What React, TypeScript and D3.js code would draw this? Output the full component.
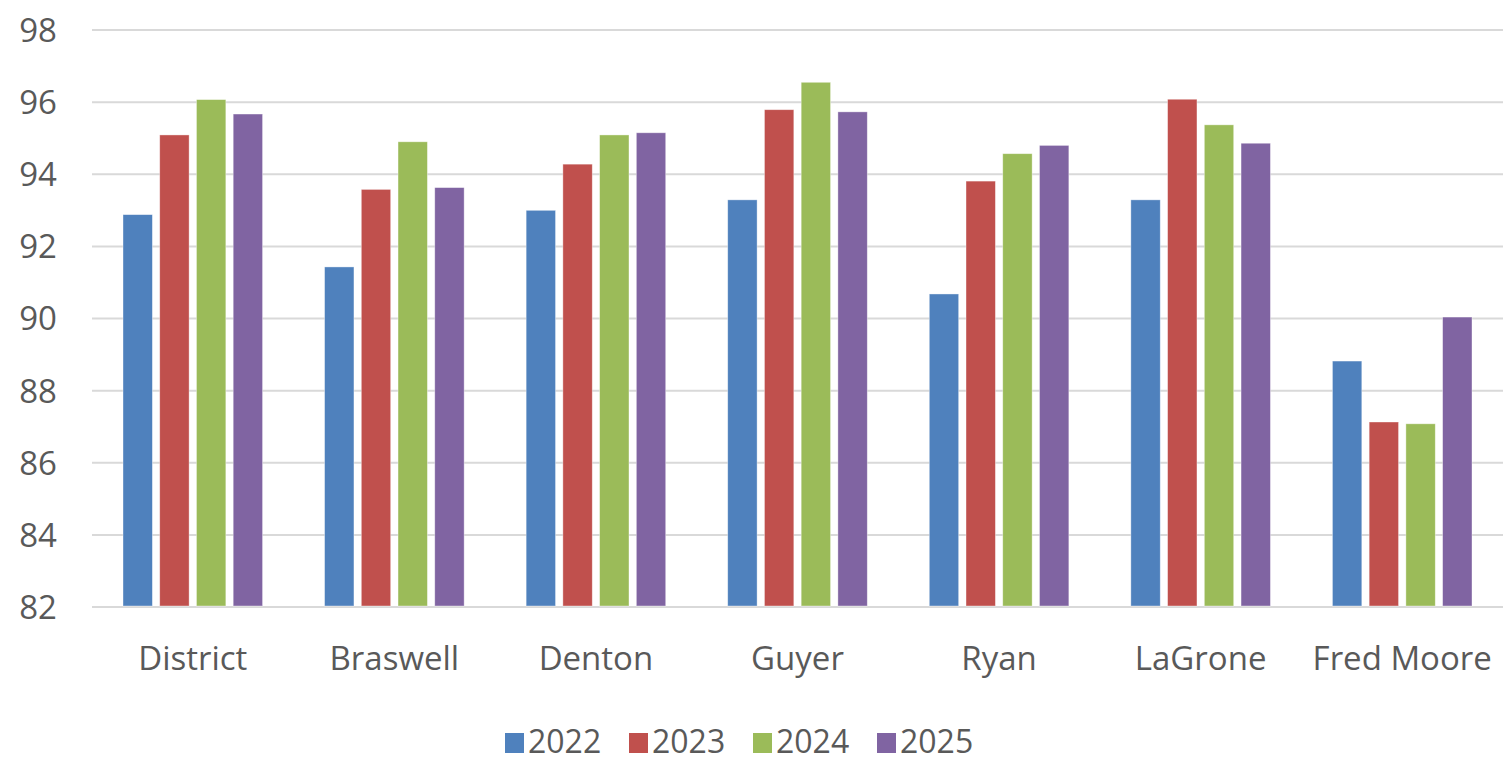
import React from "react";
import * as d3 from "d3";

const categories = ["District", "Braswell", "Denton", "Guyer", "Ryan", "LaGrone", "Fred Moore"];
const years = ["2022", "2023", "2024", "2025"];
const values2022 = [92.88, 91.43, 93.0, 93.29, 90.68, 93.29, 88.82];
const values2023 = [95.09, 93.58, 94.28, 95.79, 93.81, 96.08, 87.13];
const values2024 = [96.07, 94.9, 95.09, 96.55, 94.57, 95.37, 87.08];
const values2025 = [95.67, 93.63, 95.15, 95.73, 94.8, 94.86, 90.04];
const seriesValues = [values2022, values2023, values2024, values2025];
const yTicks = [82, 84, 86, 88, 90, 92, 94, 96, 98];
const colors = ["#4F81BD", "#C0504D", "#9BBB59", "#8064A2"];

const W = 1503;
const H = 763;
const FONT = "'Open Sans', 'Segoe UI', sans-serif";
const TEXT = "#595959";

export default function App() {
  const x0 = d3.scaleBand<string>().domain(categories).range([92, 1503]).padding(0);
  const outer = 31;
  const x1 = d3
    .scaleBand<string>()
    .domain(years)
    .range([outer, x0.bandwidth() - outer])
    .paddingInner(0.2)
    .paddingOuter(0);
  const y = d3.scaleLinear().domain([82, 98]).range([607, 30]);

  const legendX = d3.scaleBand<string>().domain(years).range([505, 505 + 124 * 4]);

  return (
    <svg
      width={W}
      height={H}
      style={{ position: "absolute", left: 0, top: 0, background: "#fff" }}
      fontFamily={FONT}
    >
      <rect x={0} y={0} width={W} height={H} fill="#fff" />
      {yTicks.map((t) => (
        <g key={t}>
          <line x1={92} x2={1503} y1={y(t)} y2={y(t)} stroke="#D9D9D9" strokeWidth={2} />
          <text x={57} y={y(t)} dy="0.36em" textAnchor="end" fontSize={33} fill={TEXT}>
            {t}
          </text>
        </g>
      ))}
      {categories.map((c, ci) => (
        <g key={c} transform={`translate(${x0(c)},0)`}>
          {years.map((yr, si) => {
            const v = seriesValues[si][ci];
            return (
              <rect
                key={yr}
                x={x1(yr)}
                y={y(v)}
                width={x1.bandwidth()}
                height={y(82) - y(v) - 1}
                fill={colors[si]}
                stroke="#ffffff"
                strokeOpacity={0.5}
                strokeWidth={0.75}
              />
            );
          })}
          <text
            x={x0.bandwidth() / 2}
            y={670}
            textAnchor="middle"
            fontSize={33}
            fill={TEXT}
          >
            {c}
          </text>
        </g>
      ))}
      {years.map((yr, si) => (
        <g key={yr} transform={`translate(${legendX(yr)},0)`}>
          <rect x={0} y={733} width={19} height={20} fill={colors[si]} />
          <text x={23} y={753} fontSize={32} fill={TEXT}>
            {yr}
          </text>
        </g>
      ))}
    </svg>
  );
}
